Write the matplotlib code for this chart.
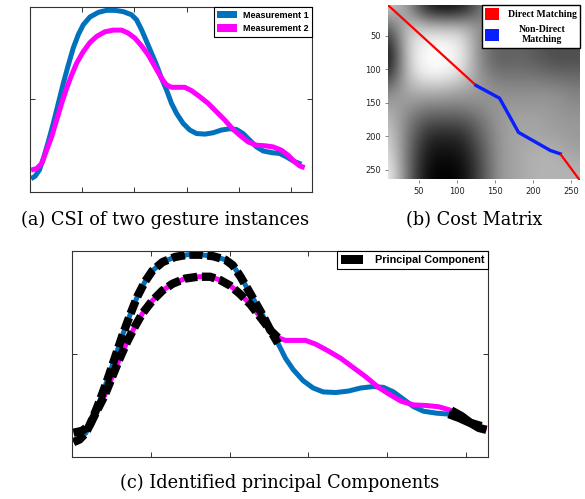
import matplotlib
matplotlib.use("Agg")
import matplotlib.pyplot as plt
import matplotlib.patches as mpatches
from matplotlib.transforms import Affine2D
import numpy as np

# ---------------- data ----------------
m1_x = [0.96, 4.8, 8.9, 12.8, 17.5, 22.3, 27.1, 31.9, 36.7, 41.4, 46.2, 51.0, 57.4, 65.4,
        73.3, 81.3, 89.3, 97.2, 102.0, 106.8, 111.6, 116.4, 121.1, 125.9, 130.7, 135.5,
        140.3, 146.6, 153.0, 159.4, 167.4, 175.3, 183.3, 191.3, 197.7, 204.0, 210.4,
        216.8, 223.2, 231.1, 239.1, 245.5, 251.9, 259.8]
m1_y = [0.072, 0.085, 0.118, 0.181, 0.271, 0.371, 0.479, 0.588, 0.687, 0.778, 0.850, 0.904,
        0.946, 0.971, 0.982, 0.982, 0.975, 0.958, 0.931, 0.877, 0.814, 0.750, 0.687, 0.615,
        0.552, 0.479, 0.425, 0.371, 0.335, 0.316, 0.313, 0.320, 0.335, 0.342, 0.338, 0.316,
        0.280, 0.244, 0.222, 0.213, 0.208, 0.190, 0.168, 0.150]

m2_x = [1.0, 6.4, 11.2, 15.9, 20.7, 25.5, 30.3, 35.1, 39.9, 44.6, 51.0, 57.4, 63.8, 71.7,
        79.7, 87.7, 94.0, 100.4, 106.8, 113.2, 119.6, 125.9, 130.7, 135.5, 141.9, 148.2,
        154.6, 162.6, 170.6, 178.5, 186.5, 194.5, 200.8, 208.8, 216.8, 224.8, 232.7,
        240.7, 247.1, 253.4, 258.2, 263.0]
m2_y = [0.118, 0.127, 0.154, 0.226, 0.298, 0.389, 0.479, 0.561, 0.633, 0.696, 0.759, 0.808,
        0.841, 0.866, 0.875, 0.875, 0.859, 0.832, 0.790, 0.741, 0.678, 0.615, 0.579, 0.566,
        0.566, 0.566, 0.548, 0.515, 0.479, 0.434, 0.389, 0.338, 0.307, 0.271, 0.253, 0.250,
        0.244, 0.226, 0.199, 0.163, 0.141, 0.132]

# principal component ranges (x)
pc_ranges = [(0, 131), (239, 270)]
pc_dashed = [True, False]

# cost matrix (brightness, 1 = white), rows top->bottom, cols left->right
cost_centers = [12, 36, 60, 84, 108, 132, 156, 180, 204, 228, 252]
cost = [
    [0.78, 0.60, 0.12, 0.05, 0.10, 0.45, 0.60, 0.60, 0.55, 0.55, 0.60],
    [0.40, 0.80, 0.72, 0.70, 0.70, 0.55, 0.50, 0.45, 0.45, 0.40, 0.40],
    [0.15, 0.85, 0.97, 0.97, 0.90, 0.50, 0.38, 0.40, 0.35, 0.30, 0.33],
    [0.05, 0.85, 1.00, 1.00, 0.92, 0.50, 0.35, 0.40, 0.35, 0.30, 0.30],
    [0.18, 0.80, 0.97, 0.95, 0.85, 0.55, 0.45, 0.45, 0.45, 0.40, 0.40],
    [0.50, 0.68, 0.72, 0.70, 0.65, 0.60, 0.55, 0.55, 0.55, 0.55, 0.50],
    [0.65, 0.58, 0.50, 0.50, 0.50, 0.55, 0.60, 0.60, 0.60, 0.60, 0.55],
    [0.75, 0.48, 0.30, 0.30, 0.30, 0.45, 0.60, 0.65, 0.65, 0.60, 0.60],
    [0.82, 0.45, 0.15, 0.12, 0.15, 0.38, 0.60, 0.65, 0.65, 0.65, 0.60],
    [0.88, 0.42, 0.08, 0.05, 0.08, 0.32, 0.60, 0.65, 0.70, 0.70, 0.65],
    [0.95, 0.42, 0.03, 0.00, 0.03, 0.30, 0.60, 0.65, 0.70, 0.70, 0.70],
]

direct1_c = [5, 125]
direct1_r = [0, 124]
nondirect_c = [125, 156, 181, 223, 236]
nondirect_r = [124, 143, 194, 221, 226]
direct2_c = [236, 266]
direct2_r = [226, 272]

cost_ticks = [50, 100, 150, 200, 250]
x_ticks = [50, 100, 150, 200, 250]

labels_a = ["Measurement 1", "Measurement 2"]
label_pc = "Principal Component"
labels_b = ["Direct Matching", "Non-Direct\nMatching"]
captions = ["(a) CSI of two gesture instances", "(b) Cost Matrix",
            "(c) Identified principal Components"]

BLUE = "#0072BD"
MAG = "#FF00FF"

# ---------------- figure ----------------
fig = plt.figure(figsize=(5.85, 4.99), dpi=100)

def style_line_axes(ax, xmax):
    ax.set_xlim(0, xmax)
    ax.set_ylim(0, 1)
    ax.set_xticks(x_ticks)
    ax.set_yticks([0.5])
    ax.tick_params(direction="in", top=True, right=True, length=3.5, width=0.7,
                   color="#333333", labelbottom=False, labelleft=False)
    for s in ax.spines.values():
        s.set_linewidth(0.8)
        s.set_color("#333333")

# (a)
axa = fig.add_axes([30/585, 1-192/499, 282/585, 185/499])
axa.plot(m1_x, m1_y, color=BLUE, lw=3.6, solid_joinstyle="round", solid_capstyle="butt")
axa.plot(m2_x, m2_y, color=MAG, lw=3.6, solid_joinstyle="round", solid_capstyle="butt")
style_line_axes(axa, 270)
ha = [mpatches.Patch(facecolor=BLUE, edgecolor="none"), mpatches.Patch(facecolor=MAG, edgecolor="none")]
lega = axa.legend(ha, labels_a, loc="upper right", bbox_to_anchor=(1, 1), borderaxespad=0,
                  fancybox=False, framealpha=1, edgecolor="black",
                  prop={"family": "Liberation Sans", "weight": "bold", "size": 6.5},
                  handlelength=2.2, handleheight=0.9, handletextpad=0.6, borderpad=0.4,
                  labelspacing=0.5)
lega.get_frame().set_linewidth(0.8)

# (b)
axb = fig.add_axes([388/585, 1-180/499, 192/585, 175/499])
half = (cost_centers[1] - cost_centers[0]) / 2
axb.imshow(np.array(cost), cmap="gray", vmin=0, vmax=1, interpolation="bicubic",
           extent=[cost_centers[0]-half, cost_centers[-1]+half, cost_centers[-1]+half, cost_centers[0]-half],
           aspect="auto")
axb.plot(direct1_c, direct1_r, color="#FF0000", lw=1.6, solid_capstyle="butt")
axb.plot(nondirect_c, nondirect_r, color="#0A1EFF", lw=2.4, solid_joinstyle="round")
axb.plot(direct2_c, direct2_r, color="#FF0000", lw=1.6, solid_capstyle="butt")
axb.set_xlim(9, 262)
axb.set_ylim(265, 4)
axb.set_xticks(cost_ticks)
axb.set_yticks(cost_ticks)
axb.tick_params(length=2, width=0.5, color="#555555", labelsize=6, labelcolor="#222222", pad=3)
for s in axb.spines.values():
    s.set_visible(False)
hb = [mpatches.Patch(facecolor="#FF0000", edgecolor="none"), mpatches.Patch(facecolor="#0A1EFF", edgecolor="none")]
legb = axb.legend(hb, labels_b, loc="upper right", bbox_to_anchor=(1, 1), borderaxespad=0,
                  fancybox=False, framealpha=1, edgecolor="black",
                  prop={"family": "Liberation Serif", "weight": "bold", "size": 7},
                  handlelength=1.4, handleheight=1.4, handletextpad=0.9, borderpad=0.35,
                  labelspacing=0.55)
for t in legb.get_texts():
    t.set_multialignment("center")
legb.get_frame().set_linewidth(1.0)

# (c)
axc = fig.add_axes([72/585, 1-457/499, 416/585, 206/499])
axc.plot(m1_x, m1_y, color=BLUE, lw=3.6, solid_joinstyle="round", solid_capstyle="butt")
axc.plot(m2_x, m2_y, color=MAG, lw=3.6, solid_joinstyle="round", solid_capstyle="butt")
for (lo, hi), dashed in zip(pc_ranges, pc_dashed):
    for xs, ys in ((m1_x, m1_y), (m2_x, m2_y)):
        sx = [x for x in xs if lo <= x <= hi]
        sy = [y for x, y in zip(xs, ys) if lo <= x <= hi]
        if dashed:
            axc.plot(sx, sy, color="black", lw=6, linestyle=(0, (1.6, 0.55)),
                     dash_capstyle="butt", dash_joinstyle="round")
        else:
            axc.plot(sx, sy, color="black", lw=6, solid_capstyle="butt", solid_joinstyle="round")
style_line_axes(axc, 264)
hc = [mpatches.Patch(facecolor="black", edgecolor="none")]
legc = axc.legend(hc, [label_pc], loc="upper right", bbox_to_anchor=(1, 1), borderaxespad=0,
                  fancybox=False, framealpha=1, edgecolor="black",
                  prop={"family": "Liberation Sans", "weight": "bold", "size": 7.8},
                  handlelength=2.0, handleheight=0.9, handletextpad=1.1, borderpad=0.35)
legc.get_frame().set_linewidth(0.8)

# captions
cap_font = {"family": "DejaVu Serif", "size": 12.8}
fig.text(165/585, 1-220/499, captions[0], ha="center", va="center", **cap_font)
fig.text(474/585, 1-220/499, captions[1], ha="center", va="center", **cap_font)
fig.text(280/585, 1-483/499, captions[2], ha="center", va="center", **cap_font)

# center the legend (b) labels within their column
fig.canvas.draw()
renderer = fig.canvas.get_renderer()
texts_b = legb.get_texts()
widths = [t.get_window_extent(renderer).width for t in texts_b]
wmax = max(widths)
for t, w in zip(texts_b, widths):
    dx = (wmax - w) / 2.0
    if dx > 0:
        t.set_transform(t.get_transform() + Affine2D().translate(dx, 0))

fig.savefig("out.png", dpi=100)
